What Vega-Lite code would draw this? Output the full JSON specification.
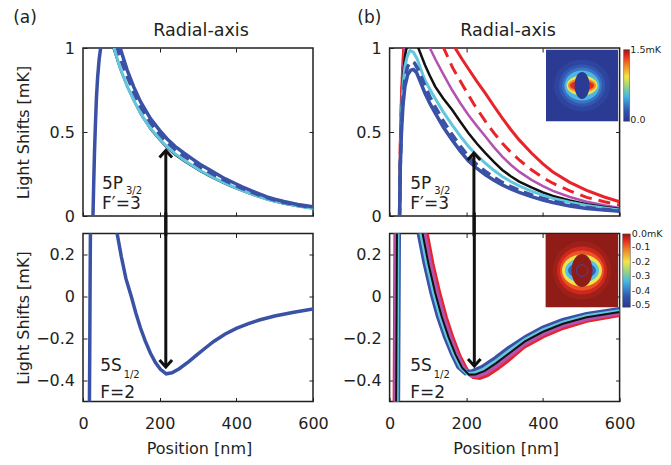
{
"$schema": "https://vega.github.io/schema/vega-lite/v6.json",
"background": "white",
"padding": {"left": 12, "top": 8, "right": 5, "bottom": 5},
"config": {
 "font": "DejaVu Sans",
 "view": {"stroke": "#231f20", "strokeWidth": 1.5},
 "axis": {"domain": false, "grid": false, "ticks": true, "tickSize": -4, "tickColor": "#231f20", "tickWidth": 1, "labelFont": "DejaVu Sans", "labelFontSize": 16, "labelColor": "#231f20", "labelFlush": false, "labelOverlap": false, "labelBound": false, "titleFont": "DejaVu Sans", "titleFontSize": 16, "titleFontWeight": "normal", "titleColor": "#231f20"},
 "axisX": {"labelPadding": 18},
 "axisY": {"labelPadding": 12.5}
},
"datasets": {
 "tA": [
  {"s":"b","x":25,"y":-0.2},{"s":"b","x":26,"y":0},{"s":"b","x":28,"y":0.2},{"s":"b","x":30,"y":0.38},{"s":"b","x":32,"y":0.52},{"s":"b","x":35,"y":0.7},{"s":"b","x":38,"y":0.82},{"s":"b","x":42,"y":0.93},{"s":"b","x":46,"y":1.0},{"s":"b","x":52,"y":1.08},{"s":"b","x":60,"y":1.14},{"s":"b","x":70,"y":1.16},{"s":"b","x":80,"y":1.13},{"s":"b","x":90,"y":1.06},{"s":"b","x":97,"y":1.0},{"s":"b","x":115,"y":0.87},{"s":"b","x":132,"y":0.77},{"s":"b","x":150,"y":0.68},{"s":"b","x":176,"y":0.58},{"s":"b","x":200,"y":0.51},{"s":"b","x":219,"y":0.46},{"s":"b","x":240,"y":0.415},{"s":"b","x":263,"y":0.375},{"s":"b","x":285,"y":0.34},{"s":"b","x":306,"y":0.307},{"s":"b","x":330,"y":0.275},{"s":"b","x":350,"y":0.248},{"s":"b","x":370,"y":0.222},{"s":"b","x":393,"y":0.198},{"s":"b","x":415,"y":0.174},{"s":"b","x":437,"y":0.152},{"s":"b","x":460,"y":0.131},{"s":"b","x":480,"y":0.114},{"s":"b","x":500,"y":0.1},{"s":"b","x":524,"y":0.086},{"s":"b","x":560,"y":0.069},{"s":"b","x":600,"y":0.055},
  {"s":"d","x":70,"y":1.2},{"s":"d","x":80,"y":1.1},{"s":"d","x":90,"y":1.0},{"s":"d","x":97,"y":0.94},{"s":"d","x":115,"y":0.832},{"s":"d","x":132,"y":0.738},{"s":"d","x":150,"y":0.651},{"s":"d","x":176,"y":0.555},{"s":"d","x":200,"y":0.487},{"s":"d","x":219,"y":0.439},{"s":"d","x":240,"y":0.396},{"s":"d","x":263,"y":0.357},{"s":"d","x":285,"y":0.324},{"s":"d","x":306,"y":0.292},{"s":"d","x":330,"y":0.261},{"s":"d","x":350,"y":0.236},{"s":"d","x":370,"y":0.211},{"s":"d","x":393,"y":0.188},{"s":"d","x":415,"y":0.165},{"s":"d","x":437,"y":0.145},{"s":"d","x":460,"y":0.125},{"s":"d","x":480,"y":0.109},{"s":"d","x":500,"y":0.095},{"s":"d","x":524,"y":0.081},{"s":"d","x":560,"y":0.065},{"s":"d","x":600,"y":0.051},
  {"s":"c","x":60,"y":1.12},{"s":"c","x":70,"y":1.07},{"s":"c","x":81,"y":1.0},{"s":"c","x":97,"y":0.88},{"s":"c","x":115,"y":0.775},{"s":"c","x":132,"y":0.692},{"s":"c","x":150,"y":0.612},{"s":"c","x":176,"y":0.522},{"s":"c","x":200,"y":0.458},{"s":"c","x":219,"y":0.412},{"s":"c","x":240,"y":0.371},{"s":"c","x":263,"y":0.333},{"s":"c","x":285,"y":0.301},{"s":"c","x":306,"y":0.271},{"s":"c","x":330,"y":0.241},{"s":"c","x":350,"y":0.218},{"s":"c","x":370,"y":0.195},{"s":"c","x":393,"y":0.173},{"s":"c","x":415,"y":0.152},{"s":"c","x":437,"y":0.133},{"s":"c","x":460,"y":0.115},{"s":"c","x":480,"y":0.1},{"s":"c","x":500,"y":0.088},{"s":"c","x":524,"y":0.075},{"s":"c","x":560,"y":0.059},{"s":"c","x":600,"y":0.045},
  {"s":"k","x":60,"y":1.1},{"s":"k","x":70,"y":1.06},{"s":"k","x":78,"y":1.0},{"s":"k","x":97,"y":0.868},{"s":"k","x":115,"y":0.765},{"s":"k","x":132,"y":0.683},{"s":"k","x":150,"y":0.603},{"s":"k","x":176,"y":0.513},{"s":"k","x":200,"y":0.449},{"s":"k","x":219,"y":0.403},{"s":"k","x":240,"y":0.362},{"s":"k","x":263,"y":0.325},{"s":"k","x":285,"y":0.293},{"s":"k","x":306,"y":0.264},{"s":"k","x":330,"y":0.234},{"s":"k","x":350,"y":0.211},{"s":"k","x":370,"y":0.189},{"s":"k","x":393,"y":0.167},{"s":"k","x":415,"y":0.147},{"s":"k","x":437,"y":0.128},{"s":"k","x":460,"y":0.111},{"s":"k","x":480,"y":0.096},{"s":"k","x":500,"y":0.084},{"s":"k","x":524,"y":0.071},{"s":"k","x":560,"y":0.056},{"s":"k","x":600,"y":0.042}
 ],
 "bA": [
  {"s":"b","x":16,"y":-0.7},{"s":"b","x":17.5,"y":-0.3},{"s":"b","x":18.5,"y":0.05},{"s":"b","x":19.5,"y":0.35},{"s":"b","x":25,"y":1.2},{"s":"b","x":50,"y":1.6},{"s":"b","x":75,"y":0.8},{"s":"b","x":89,"y":0.3},{"s":"b","x":100,"y":0.19},{"s":"b","x":112,"y":0.085},{"s":"b","x":126,"y":0.0},{"s":"b","x":138,"y":-0.08},{"s":"b","x":150,"y":-0.15},{"s":"b","x":162,"y":-0.21},{"s":"b","x":176,"y":-0.27},{"s":"b","x":189,"y":-0.315},{"s":"b","x":202,"y":-0.347},{"s":"b","x":217,"y":-0.368},{"s":"b","x":232,"y":-0.363},{"s":"b","x":250,"y":-0.345},{"s":"b","x":276,"y":-0.31},{"s":"b","x":297,"y":-0.278},{"s":"b","x":320,"y":-0.244},{"s":"b","x":341,"y":-0.214},{"s":"b","x":370,"y":-0.18},{"s":"b","x":400,"y":-0.152},{"s":"b","x":430,"y":-0.13},{"s":"b","x":460,"y":-0.112},{"s":"b","x":500,"y":-0.093},{"s":"b","x":550,"y":-0.075},{"s":"b","x":600,"y":-0.059}
 ],
 "tB": [
  {"s":"b","x":25,"y":-0.2},{"s":"b","x":26,"y":0},{"s":"b","x":28,"y":0.3},{"s":"b","x":31,"y":0.5},{"s":"b","x":35,"y":0.66},{"s":"b","x":40,"y":0.77},{"s":"b","x":47,"y":0.84},{"s":"b","x":55,"y":0.868},{"s":"b","x":62,"y":0.872},{"s":"b","x":70,"y":0.855},{"s":"b","x":80,"y":0.8},{"s":"b","x":92,"y":0.732},{"s":"b","x":105,"y":0.67},{"s":"b","x":119,"y":0.612},{"s":"b","x":140,"y":0.53},{"s":"b","x":163,"y":0.453},{"s":"b","x":185,"y":0.385},{"s":"b","x":206,"y":0.327},{"s":"b","x":228,"y":0.283},{"s":"b","x":250,"y":0.245},{"s":"b","x":272,"y":0.213},{"s":"b","x":294,"y":0.185},{"s":"b","x":316,"y":0.161},{"s":"b","x":338,"y":0.141},{"s":"b","x":370,"y":0.115},{"s":"b","x":400,"y":0.095},{"s":"b","x":426,"y":0.08},{"s":"b","x":470,"y":0.06},{"s":"b","x":514,"y":0.045},{"s":"b","x":560,"y":0.035},{"s":"b","x":600,"y":0.028},
  {"s":"d","x":25,"y":-0.2},{"s":"d","x":26,"y":0},{"s":"d","x":28,"y":0.32},{"s":"d","x":31,"y":0.53},{"s":"d","x":35,"y":0.7},{"s":"d","x":40,"y":0.82},{"s":"d","x":47,"y":0.89},{"s":"d","x":57,"y":0.92},{"s":"d","x":65,"y":0.91},{"s":"d","x":75,"y":0.87},{"s":"d","x":92,"y":0.775},{"s":"d","x":105,"y":0.71},{"s":"d","x":119,"y":0.65},{"s":"d","x":140,"y":0.565},{"s":"d","x":163,"y":0.485},{"s":"d","x":185,"y":0.414},{"s":"d","x":206,"y":0.353},{"s":"d","x":228,"y":0.305},{"s":"d","x":250,"y":0.265},{"s":"d","x":272,"y":0.23},{"s":"d","x":294,"y":0.2},{"s":"d","x":316,"y":0.175},{"s":"d","x":338,"y":0.153},{"s":"d","x":370,"y":0.125},{"s":"d","x":400,"y":0.104},{"s":"d","x":426,"y":0.088},{"s":"d","x":470,"y":0.067},{"s":"d","x":514,"y":0.05},{"s":"d","x":560,"y":0.039},{"s":"d","x":600,"y":0.031},
  {"s":"c","x":25,"y":-0.2},{"s":"c","x":26,"y":0},{"s":"c","x":28,"y":0.36},{"s":"c","x":31,"y":0.6},{"s":"c","x":35,"y":0.78},{"s":"c","x":40,"y":0.89},{"s":"c","x":46,"y":0.95},{"s":"c","x":53,"y":0.985},{"s":"c","x":62,"y":0.975},{"s":"c","x":72,"y":0.935},{"s":"c","x":82,"y":0.87},{"s":"c","x":92,"y":0.81},{"s":"c","x":105,"y":0.755},{"s":"c","x":119,"y":0.7},{"s":"c","x":140,"y":0.62},{"s":"c","x":163,"y":0.543},{"s":"c","x":185,"y":0.474},{"s":"c","x":206,"y":0.414},{"s":"c","x":228,"y":0.36},{"s":"c","x":250,"y":0.314},{"s":"c","x":272,"y":0.272},{"s":"c","x":294,"y":0.235},{"s":"c","x":316,"y":0.205},{"s":"c","x":338,"y":0.179},{"s":"c","x":370,"y":0.148},{"s":"c","x":400,"y":0.124},{"s":"c","x":426,"y":0.105},{"s":"c","x":470,"y":0.082},{"s":"c","x":514,"y":0.062},{"s":"c","x":560,"y":0.047},{"s":"c","x":600,"y":0.036},
  {"s":"k","x":25,"y":-0.2},{"s":"k","x":26,"y":0},{"s":"k","x":28,"y":0.38},{"s":"k","x":31,"y":0.63},{"s":"k","x":35,"y":0.82},{"s":"k","x":40,"y":0.95},{"s":"k","x":46,"y":1.02},{"s":"k","x":55,"y":1.05},{"s":"k","x":65,"y":1.03},{"s":"k","x":75,"y":1.0},{"s":"k","x":92,"y":0.9},{"s":"k","x":105,"y":0.835},{"s":"k","x":119,"y":0.77},{"s":"k","x":140,"y":0.7},{"s":"k","x":163,"y":0.632},{"s":"k","x":185,"y":0.56},{"s":"k","x":206,"y":0.493},{"s":"k","x":228,"y":0.43},{"s":"k","x":250,"y":0.374},{"s":"k","x":272,"y":0.322},{"s":"k","x":294,"y":0.274},{"s":"k","x":316,"y":0.237},{"s":"k","x":338,"y":0.205},{"s":"k","x":370,"y":0.17},{"s":"k","x":400,"y":0.14},{"s":"k","x":426,"y":0.119},{"s":"k","x":470,"y":0.092},{"s":"k","x":514,"y":0.07},{"s":"k","x":560,"y":0.054},{"s":"k","x":600,"y":0.042},
  {"s":"m","x":25,"y":-0.2},{"s":"m","x":26,"y":0},{"s":"m","x":28,"y":0.4},{"s":"m","x":31,"y":0.66},{"s":"m","x":35,"y":0.86},{"s":"m","x":40,"y":1.0},{"s":"m","x":50,"y":1.12},{"s":"m","x":70,"y":1.13},{"s":"m","x":90,"y":1.07},{"s":"m","x":105,"y":1.0},{"s":"m","x":120,"y":0.93},{"s":"m","x":140,"y":0.845},{"s":"m","x":163,"y":0.75},{"s":"m","x":185,"y":0.67},{"s":"m","x":206,"y":0.6},{"s":"m","x":228,"y":0.535},{"s":"m","x":250,"y":0.473},{"s":"m","x":272,"y":0.41},{"s":"m","x":294,"y":0.354},{"s":"m","x":316,"y":0.305},{"s":"m","x":338,"y":0.264},{"s":"m","x":370,"y":0.215},{"s":"m","x":400,"y":0.178},{"s":"m","x":426,"y":0.15},{"s":"m","x":470,"y":0.113},{"s":"m","x":514,"y":0.085},{"s":"m","x":560,"y":0.064},{"s":"m","x":600,"y":0.048},
  {"s":"rd","x":25,"y":-0.2},{"s":"rd","x":26,"y":0},{"s":"rd","x":28,"y":0.42},{"s":"rd","x":31,"y":0.7},{"s":"rd","x":35,"y":0.9},{"s":"rd","x":39,"y":1.02},{"s":"rd","x":50,"y":1.2},{"s":"rd","x":80,"y":1.28},{"s":"rd","x":110,"y":1.18},{"s":"rd","x":141,"y":1.0},{"s":"rd","x":165,"y":0.88},{"s":"rd","x":193,"y":0.77},{"s":"rd","x":220,"y":0.665},{"s":"rd","x":250,"y":0.563},{"s":"rd","x":272,"y":0.495},{"s":"rd","x":294,"y":0.433},{"s":"rd","x":316,"y":0.38},{"s":"rd","x":338,"y":0.334},{"s":"rd","x":370,"y":0.275},{"s":"rd","x":400,"y":0.228},{"s":"rd","x":426,"y":0.195},{"s":"rd","x":470,"y":0.15},{"s":"rd","x":514,"y":0.111},{"s":"rd","x":560,"y":0.085},{"s":"rd","x":600,"y":0.066},
  {"s":"r","x":25,"y":-0.2},{"s":"r","x":26,"y":0},{"s":"r","x":28,"y":0.44},{"s":"r","x":31,"y":0.72},{"s":"r","x":35,"y":0.93},{"s":"r","x":38,"y":1.04},{"s":"r","x":50,"y":1.35},{"s":"r","x":90,"y":1.4},{"s":"r","x":130,"y":1.25},{"s":"r","x":171,"y":1.0},{"s":"r","x":190,"y":0.93},{"s":"r","x":206,"y":0.875},{"s":"r","x":228,"y":0.8},{"s":"r","x":250,"y":0.73},{"s":"r","x":272,"y":0.655},{"s":"r","x":294,"y":0.583},{"s":"r","x":316,"y":0.515},{"s":"r","x":338,"y":0.453},{"s":"r","x":370,"y":0.375},{"s":"r","x":400,"y":0.31},{"s":"r","x":426,"y":0.262},{"s":"r","x":470,"y":0.2},{"s":"r","x":514,"y":0.152},{"s":"r","x":560,"y":0.113},{"s":"r","x":600,"y":0.085}
 ],
 "bB": [
  {"s":"b","x":20.5,"y":-0.7},{"s":"b","x":23.5,"y":0.4},{"s":"b","x":35,"y":1.5},{"s":"b","x":52,"y":1.0},{"s":"b","x":65,"y":0.55},{"s":"b","x":77,"y":0.3},{"s":"b","x":92,"y":0.161},{"s":"b","x":110,"y":0.018},{"s":"b","x":127,"y":-0.094},{"s":"b","x":145,"y":-0.19},{"s":"b","x":163,"y":-0.27},{"s":"b","x":180,"y":-0.334},{"s":"b","x":198,"y":-0.363},{"s":"b","x":215,"y":-0.358},{"s":"b","x":242,"y":-0.337},{"s":"b","x":277,"y":-0.294},{"s":"b","x":312,"y":-0.246},{"s":"b","x":356,"y":-0.193},{"s":"b","x":400,"y":-0.15},{"s":"b","x":452,"y":-0.114},{"s":"b","x":514,"y":-0.085},{"s":"b","x":600,"y":-0.062},
  {"s":"c","x":18.5,"y":-0.7},{"s":"c","x":21.5,"y":0.4},{"s":"c","x":33,"y":1.5},{"s":"c","x":57,"y":1.0},{"s":"c","x":70,"y":0.55},{"s":"c","x":82,"y":0.3},{"s":"c","x":97,"y":0.16},{"s":"c","x":115,"y":0.017},{"s":"c","x":132,"y":-0.0955},{"s":"c","x":150,"y":-0.1925},{"s":"c","x":168,"y":-0.274},{"s":"c","x":185,"y":-0.337},{"s":"c","x":203,"y":-0.368},{"s":"c","x":220,"y":-0.3655},{"s":"c","x":245,"y":-0.3465},{"s":"c","x":278,"y":-0.307},{"s":"c","x":312,"y":-0.2595},{"s":"c","x":354.5,"y":-0.205},{"s":"c","x":400,"y":-0.16},{"s":"c","x":452,"y":-0.123},{"s":"c","x":514,"y":-0.093},{"s":"c","x":600,"y":-0.0685},
  {"s":"k","x":16.5,"y":-0.7},{"s":"k","x":19.5,"y":0.4},{"s":"k","x":31,"y":1.5},{"s":"k","x":61,"y":1.0},{"s":"k","x":74,"y":0.55},{"s":"k","x":86,"y":0.3},{"s":"k","x":101,"y":0.158},{"s":"k","x":119,"y":0.0167},{"s":"k","x":136,"y":-0.0967},{"s":"k","x":154,"y":-0.1945},{"s":"k","x":172,"y":-0.277},{"s":"k","x":189,"y":-0.339},{"s":"k","x":207,"y":-0.372},{"s":"k","x":224,"y":-0.3715},{"s":"k","x":248,"y":-0.354},{"s":"k","x":278,"y":-0.317},{"s":"k","x":312,"y":-0.27},{"s":"k","x":353,"y":-0.214},{"s":"k","x":400,"y":-0.168},{"s":"k","x":452,"y":-0.13},{"s":"k","x":514,"y":-0.099},{"s":"k","x":600,"y":-0.0737},
  {"s":"m","x":14.5,"y":-0.7},{"s":"m","x":17.5,"y":0.4},{"s":"m","x":29,"y":1.5},{"s":"m","x":66,"y":1.0},{"s":"m","x":79,"y":0.55},{"s":"m","x":91,"y":0.3},{"s":"m","x":106,"y":0.157},{"s":"m","x":124,"y":0.016},{"s":"m","x":141,"y":-0.098},{"s":"m","x":159,"y":-0.197},{"s":"m","x":177,"y":-0.2805},{"s":"m","x":194,"y":-0.342},{"s":"m","x":212,"y":-0.377},{"s":"m","x":229,"y":-0.379},{"s":"m","x":251,"y":-0.364},{"s":"m","x":279,"y":-0.33},{"s":"m","x":312,"y":-0.284},{"s":"m","x":352,"y":-0.226},{"s":"m","x":400,"y":-0.178},{"s":"m","x":452,"y":-0.139},{"s":"m","x":514,"y":-0.107},{"s":"m","x":600,"y":-0.08},
  {"s":"r","x":12.5,"y":-0.7},{"s":"r","x":15.5,"y":0.4},{"s":"r","x":27,"y":1.5},{"s":"r","x":72,"y":1.0},{"s":"r","x":85,"y":0.55},{"s":"r","x":97,"y":0.3},{"s":"r","x":112,"y":0.155},{"s":"r","x":130,"y":0.015},{"s":"r","x":147,"y":-0.1},{"s":"r","x":165,"y":-0.2},{"s":"r","x":183,"y":-0.285},{"s":"r","x":200,"y":-0.345},{"s":"r","x":218,"y":-0.383},{"s":"r","x":235,"y":-0.388},{"s":"r","x":255,"y":-0.375},{"s":"r","x":280,"y":-0.345},{"s":"r","x":312,"y":-0.3},{"s":"r","x":350,"y":-0.24},{"s":"r","x":400,"y":-0.19},{"s":"r","x":452,"y":-0.15},{"s":"r","x":514,"y":-0.116},{"s":"r","x":600,"y":-0.088}
 ]
},
"columns": 2,
"spacing": {"row": 17.5, "column": 76.6},
"bounds": "flush",
"concat": [
 {
  "width": 230, "height": 168,
  "data": {"name": "tA"},
  "encoding": {
   "x": {"field": "x", "type": "quantitative", "scale": {"domain": [0, 600], "nice": false, "zero": false}, "axis": null},
   "y": {"field": "y", "type": "quantitative", "scale": {"domain": [0, 1], "nice": false, "zero": false}, "axis": null}
  },
  "layer": [
   {"transform": [{"filter": "datum.s=='k'"}], "mark": {"type": "line", "clip": true, "color": "#111111", "strokeWidth": 1.2},
    "encoding": {
     "x": {"field": "x", "type": "quantitative", "scale": {"domain": [0, 600], "nice": false, "zero": false}, "axis": {"orient": "bottom", "values": [0, 200, 400, 600], "labels": false, "title": null}},
     "y": {"field": "y", "type": "quantitative", "scale": {"domain": [0, 1], "nice": false, "zero": false}, "axis": {"orient": "left", "values": [0, 0.5, 1], "format": "~g", "title": "Light Shifts [mK]", "titleX": -60, "titleY": 84, "titleAngle": -90, "titleAlign": "center", "titleBaseline": "middle"}}
    }},
   {"transform": [{"filter": "datum.s=='c'"}], "mark": {"type": "line", "clip": true, "color": "#62c6dc", "strokeWidth": 3},
    "encoding": {
     "x": {"field": "x", "type": "quantitative", "scale": {"domain": [0, 600], "nice": false, "zero": false}, "axis": {"orient": "top", "values": [200, 400], "labels": false, "title": null}},
     "y": {"field": "y", "type": "quantitative", "scale": {"domain": [0, 1], "nice": false, "zero": false}, "axis": {"orient": "right", "values": [0.5], "labels": false, "title": null}}
    }},
   {"transform": [{"filter": "datum.s=='d'"}], "mark": {"type": "line", "clip": true, "color": "#3a52a6", "strokeWidth": 3.5, "strokeDash": [10, 6]}},
   {"transform": [{"filter": "datum.s=='b'"}], "mark": {"type": "line", "clip": true, "color": "#3a52a6", "strokeWidth": 3.5}},
   {"data": {"values": [{"x": 216, "y": 0.39, "y2": -0.12}]}, "mark": {"type": "rule", "color": "#111111", "strokeWidth": 3}, "encoding": {"y2": {"field": "y2"}}},
   {"data": {"values": [{"x": 216, "y": 0.39}]}, "mark": {"type": "point", "shape": "M-0.9,1L0,0L0.9,1", "size": 196, "filled": false, "color": "#111111", "strokeWidth": 3, "opacity": 1}},
   {"data": {"values": [{"t": "5P", "x": 49.6, "y": 0.159}, {"t": "F′=3", "x": 49.6, "y": 0.04}, {"t": "(a)", "x": -182, "y": 1.149}]}, "mark": {"type": "text", "align": "left", "baseline": "alphabetic", "font": "DejaVu Sans", "fontSize": 17, "color": "#231f20"}, "encoding": {"text": {"field": "t"}}},
   {"data": {"values": [{"t": "Radial-axis", "x": 308, "y": 1.07}]}, "mark": {"type": "text", "align": "center", "baseline": "alphabetic", "font": "DejaVu Sans", "fontSize": 17.5, "color": "#231f20"}, "encoding": {"text": {"field": "t"}}},
   {"data": {"values": [{"t": "3/2", "x": 112, "y": 0.13}]}, "mark": {"type": "text", "align": "left", "baseline": "alphabetic", "font": "DejaVu Sans", "fontSize": 10, "color": "#231f20"}, "encoding": {"text": {"field": "t"}}}
  ],
  "resolve": {"axis": {"x": "independent", "y": "independent"}}
 },
 {
  "width": 230, "height": 168,
  "data": {"name": "tB"},
  "encoding": {
   "x": {"field": "x", "type": "quantitative", "scale": {"domain": [0, 600], "nice": false, "zero": false}, "axis": null},
   "y": {"field": "y", "type": "quantitative", "scale": {"domain": [0, 1], "nice": false, "zero": false}, "axis": null}
  },
  "layer": [
   {"transform": [{"filter": "datum.s=='r'"}], "mark": {"type": "line", "clip": true, "color": "#e8242a", "strokeWidth": 3},
    "encoding": {
     "x": {"field": "x", "type": "quantitative", "scale": {"domain": [0, 600], "nice": false, "zero": false}, "axis": {"orient": "bottom", "values": [0, 200, 400, 600], "labels": false, "title": null}},
     "y": {"field": "y", "type": "quantitative", "scale": {"domain": [0, 1], "nice": false, "zero": false}, "axis": {"orient": "left", "values": [0, 0.5, 1], "format": "~g", "title": null}}
    }},
   {"transform": [{"filter": "datum.s=='rd'"}], "mark": {"type": "line", "clip": true, "color": "#e8242a", "strokeWidth": 3, "strokeDash": [12, 7]},
    "encoding": {
     "x": {"field": "x", "type": "quantitative", "scale": {"domain": [0, 600], "nice": false, "zero": false}, "axis": {"orient": "top", "values": [200, 400], "labels": false, "title": null}},
     "y": {"field": "y", "type": "quantitative", "scale": {"domain": [0, 1], "nice": false, "zero": false}, "axis": {"orient": "right", "values": [0.5], "labels": false, "title": null}}
    }},
   {"transform": [{"filter": "datum.s=='m'"}], "mark": {"type": "line", "clip": true, "color": "#b352b0", "strokeWidth": 2.5}},
   {"transform": [{"filter": "datum.s=='k'"}], "mark": {"type": "line", "clip": true, "color": "#111111", "strokeWidth": 2.5}},
   {"transform": [{"filter": "datum.s=='c'"}], "mark": {"type": "line", "clip": true, "color": "#62c6dc", "strokeWidth": 3}},
   {"transform": [{"filter": "datum.s=='d'"}], "mark": {"type": "line", "clip": true, "color": "#3a52a6", "strokeWidth": 3.5, "strokeDash": [10, 6]}},
   {"transform": [{"filter": "datum.s=='b'"}], "mark": {"type": "line", "clip": true, "color": "#3a52a6", "strokeWidth": 3.5}},
   {"data": {"values": [{"x": 220, "y": 0.375, "y2": -0.12}]}, "mark": {"type": "rule", "color": "#111111", "strokeWidth": 3}, "encoding": {"y2": {"field": "y2"}}},
   {"data": {"values": [{"x": 220, "y": 0.375}]}, "mark": {"type": "point", "shape": "M-0.9,1L0,0L0.9,1", "size": 196, "filled": false, "color": "#111111", "strokeWidth": 3, "opacity": 1}},
   {"data": {"values": [{"x": 408, "x2": 596, "y": 0.564, "y2": 0.99}]}, "mark": {"type": "rect", "color": "#2b3a92"}, "encoding": {"x2": {"field": "x2"}, "y2": {"field": "y2"}}},
   {"data": {"values": [{"x": 502, "y": 0.777}]}, "mark": {"type": "point", "shape": "M0.28,0C0.28,0.144 0.155,0.26 0,0.26C-0.155,0.26 -0.28,0.144 -0.28,0C-0.28,-0.144 -0.155,-0.26 0,-0.26C0.155,-0.26 0.28,-0.144 0.28,0Z", "size": 40000, "filled": true, "color": "#2e45a0", "opacity": 1, "strokeWidth": 0}},
   {"data": {"values": [{"x": 502, "y": 0.777}]}, "mark": {"type": "point", "shape": "M0.23,0C0.23,0.116 0.127,0.21 0,0.21C-0.127,0.21 -0.23,0.116 -0.23,0C-0.23,-0.116 -0.127,-0.21 0,-0.21C0.127,-0.21 0.23,-0.116 0.23,0Z", "size": 40000, "filled": true, "color": "#3257b0", "opacity": 1, "strokeWidth": 0}},
   {"data": {"values": [{"x": 502, "y": 0.777}]}, "mark": {"type": "point", "shape": "M0.2,0C0.2,0.099 0.11,0.18 0,0.18C-0.11,0.18 -0.2,0.099 -0.2,0C-0.2,-0.099 -0.11,-0.18 0,-0.18C0.11,-0.18 0.2,-0.099 0.2,0Z", "size": 40000, "filled": true, "color": "#3a72c4", "opacity": 1, "strokeWidth": 0}},
   {"data": {"values": [{"x": 502, "y": 0.777}]}, "mark": {"type": "point", "shape": "M0.175,0C0.175,0.083 0.097,0.15 0,0.15C-0.097,0.15 -0.175,0.083 -0.175,0C-0.175,-0.083 -0.097,-0.15 0,-0.15C0.097,-0.15 0.175,-0.083 0.175,0Z", "size": 40000, "filled": true, "color": "#4bb8e3", "opacity": 1, "strokeWidth": 0}},
   {"data": {"values": [{"x": 502, "y": 0.777}]}, "mark": {"type": "point", "shape": "M0.155,0C0.155,0.055 0.086,0.1 0,0.1C-0.086,0.1 -0.155,0.055 -0.155,0C-0.155,-0.055 -0.086,-0.1 0,-0.1C0.086,-0.1 0.155,-0.055 0.155,0Z", "size": 40000, "filled": true, "color": "#f0e24a", "opacity": 1, "strokeWidth": 0}},
   {"data": {"values": [{"x": 502, "y": 0.777}]}, "mark": {"type": "point", "shape": "M0.14,0C0.14,0.039 0.077,0.07 0,0.07C-0.077,0.07 -0.14,0.039 -0.14,0C-0.14,-0.039 -0.077,-0.07 0,-0.07C0.077,-0.07 0.14,-0.039 0.14,0Z", "size": 40000, "filled": true, "color": "#f08a30", "opacity": 1, "strokeWidth": 0}},
   {"data": {"values": [{"x": 502, "y": 0.777}]}, "mark": {"type": "point", "shape": "M0.12,0C0.12,0.028 0.066,0.05 0,0.05C-0.066,0.05 -0.12,0.028 -0.12,0C-0.12,-0.028 -0.066,-0.05 0,-0.05C0.066,-0.05 0.12,-0.028 0.12,0Z", "size": 40000, "filled": true, "color": "#e02a24", "opacity": 1, "strokeWidth": 0}},
   {"data": {"values": [{"x": 502, "y": 0.777}]}, "mark": {"type": "point", "shape": "M0.075,0C0.075,0.075 0.041,0.135 0,0.135C-0.041,0.135 -0.075,0.075 -0.075,0C-0.075,-0.075 -0.041,-0.135 0,-0.135C0.041,-0.135 0.075,-0.075 0.075,0Z", "size": 40000, "filled": true, "color": "#2b3a92", "opacity": 1, "strokeWidth": 0}},
   {"data": {"values": [{"x": 610.5, "x2": 626, "y": 0.564, "y2": 0.99}]}, "mark": {"type": "rect", "stroke": "#444444", "strokeWidth": 0.5, "color": {"gradient": "linear", "x1": 0, "y1": 1, "x2": 0, "y2": 0, "stops": [{"offset": 0, "color": "#2a3590"}, {"offset": 0.15, "color": "#2f56b0"}, {"offset": 0.35, "color": "#45b7e6"}, {"offset": 0.5, "color": "#9fd67c"}, {"offset": 0.62, "color": "#f2e645"}, {"offset": 0.8, "color": "#ef7a26"}, {"offset": 0.92, "color": "#e2231f"}, {"offset": 1, "color": "#8e1a17"}]}}, "encoding": {"x2": {"field": "x2"}, "y2": {"field": "y2"}}},
   {"data": {"values": [{"t": "1.5mK", "x": 628, "y": 0.99}, {"t": "0.0", "x": 628, "y": 0.57}]}, "mark": {"type": "text", "align": "left", "baseline": "middle", "font": "DejaVu Sans", "fontSize": 9.5, "color": "#231f20"}, "encoding": {"text": {"field": "t"}}},
   {"data": {"values": [{"t": "5P", "x": 54, "y": 0.159}, {"t": "F′=3", "x": 54, "y": 0.04}, {"t": "(b)", "x": -84.3, "y": 1.149}]}, "mark": {"type": "text", "align": "left", "baseline": "alphabetic", "font": "DejaVu Sans", "fontSize": 17, "color": "#231f20"}, "encoding": {"text": {"field": "t"}}},
   {"data": {"values": [{"t": "Radial-axis", "x": 309, "y": 1.07}]}, "mark": {"type": "text", "align": "center", "baseline": "alphabetic", "font": "DejaVu Sans", "fontSize": 17.5, "color": "#231f20"}, "encoding": {"text": {"field": "t"}}},
   {"data": {"values": [{"t": "3/2", "x": 116.5, "y": 0.13}]}, "mark": {"type": "text", "align": "left", "baseline": "alphabetic", "font": "DejaVu Sans", "fontSize": 10, "color": "#231f20"}, "encoding": {"text": {"field": "t"}}}
  ],
  "resolve": {"axis": {"x": "independent", "y": "independent"}}
 },
 {
  "width": 230, "height": 168,
  "data": {"name": "bA"},
  "encoding": {
   "x": {"field": "x", "type": "quantitative", "scale": {"domain": [0, 600], "nice": false, "zero": false}, "axis": null},
   "y": {"field": "y", "type": "quantitative", "scale": {"domain": [-0.5, 0.3], "nice": false, "zero": false}, "axis": null}
  },
  "layer": [
   {"transform": [{"filter": "datum.s=='b'"}], "mark": {"type": "line", "clip": true, "color": "#3a52a6", "strokeWidth": 3.5},
    "encoding": {
     "x": {"field": "x", "type": "quantitative", "scale": {"domain": [0, 600], "nice": false, "zero": false}, "axis": {"orient": "bottom", "values": [0, 200, 400, 600], "title": "Position [nm]", "titleX": 116, "titleY": 52, "titleBaseline": "alphabetic", "titleAlign": "center"}},
     "y": {"field": "y", "type": "quantitative", "scale": {"domain": [-0.5, 0.3], "nice": false, "zero": false}, "axis": {"orient": "left", "values": [-0.4, -0.2, 0, 0.2], "format": "~g", "title": "Light Shifts [mK]", "titleX": -60, "titleY": 84, "titleAngle": -90, "titleAlign": "center", "titleBaseline": "middle"}}
    }},
   {"transform": [{"filter": "datum.s=='none'"}], "mark": {"type": "line", "clip": true},
    "encoding": {
     "x": {"field": "x", "type": "quantitative", "scale": {"domain": [0, 600], "nice": false, "zero": false}, "axis": {"orient": "top", "values": [200, 400], "labels": false, "title": null}},
     "y": {"field": "y", "type": "quantitative", "scale": {"domain": [-0.5, 0.3], "nice": false, "zero": false}, "axis": {"orient": "right", "values": [-0.4, -0.2, 0, 0.2], "labels": false, "title": null}}
    }},
   {"data": {"values": [{"x": 216, "y": 0.4, "y2": -0.336}]}, "mark": {"type": "rule", "color": "#111111", "strokeWidth": 3}, "encoding": {"y2": {"field": "y2"}}},
   {"data": {"values": [{"x": 216, "y": -0.336}]}, "mark": {"type": "point", "shape": "M-0.9,-1L0,0L0.9,-1", "size": 196, "filled": false, "color": "#111111", "strokeWidth": 3, "opacity": 1}},
   {"data": {"values": [{"t": "5S", "x": 45, "y": -0.356}, {"t": "F=2", "x": 45, "y": -0.485}]}, "mark": {"type": "text", "align": "left", "baseline": "alphabetic", "font": "DejaVu Sans", "fontSize": 17, "color": "#231f20"}, "encoding": {"text": {"field": "t"}}},
   {"data": {"values": [{"t": "1/2", "x": 106, "y": -0.388}]}, "mark": {"type": "text", "align": "left", "baseline": "alphabetic", "font": "DejaVu Sans", "fontSize": 10, "color": "#231f20"}, "encoding": {"text": {"field": "t"}}}
  ],
  "resolve": {"axis": {"x": "independent", "y": "independent"}}
 },
 {
  "width": 230, "height": 168,
  "data": {"name": "bB"},
  "encoding": {
   "x": {"field": "x", "type": "quantitative", "scale": {"domain": [0, 600], "nice": false, "zero": false}, "axis": null},
   "y": {"field": "y", "type": "quantitative", "scale": {"domain": [-0.5, 0.3], "nice": false, "zero": false}, "axis": null}
  },
  "layer": [
   {"transform": [{"filter": "datum.s=='r'"}], "mark": {"type": "line", "clip": true, "color": "#e8242a", "strokeWidth": 4},
    "encoding": {
     "x": {"field": "x", "type": "quantitative", "scale": {"domain": [0, 600], "nice": false, "zero": false}, "axis": {"orient": "bottom", "values": [0, 200, 400, 600], "title": "Position [nm]", "titleX": 116, "titleY": 52, "titleBaseline": "alphabetic", "titleAlign": "center"}},
     "y": {"field": "y", "type": "quantitative", "scale": {"domain": [-0.5, 0.3], "nice": false, "zero": false}, "axis": {"orient": "left", "values": [-0.4, -0.2, 0, 0.2], "format": "~g", "title": null}}
    }},
   {"transform": [{"filter": "datum.s=='m'"}], "mark": {"type": "line", "clip": true, "color": "#b352b0", "strokeWidth": 4},
    "encoding": {
     "x": {"field": "x", "type": "quantitative", "scale": {"domain": [0, 600], "nice": false, "zero": false}, "axis": {"orient": "top", "values": [200, 400], "labels": false, "title": null}},
     "y": {"field": "y", "type": "quantitative", "scale": {"domain": [-0.5, 0.3], "nice": false, "zero": false}, "axis": {"orient": "right", "values": [-0.4, -0.2, 0, 0.2], "labels": false, "title": null}}
    }},
   {"transform": [{"filter": "datum.s=='b'"}], "mark": {"type": "line", "clip": true, "color": "#3a52a6", "strokeWidth": 5}},
   {"transform": [{"filter": "datum.s=='c'"}], "mark": {"type": "line", "clip": true, "color": "#62c6dc", "strokeWidth": 3.5}},
   {"transform": [{"filter": "datum.s=='k'"}], "mark": {"type": "line", "clip": true, "color": "#111111", "strokeWidth": 2}},
   {"data": {"values": [{"x": 221, "y": 0.4, "y2": -0.331}]}, "mark": {"type": "rule", "color": "#111111", "strokeWidth": 3}, "encoding": {"y2": {"field": "y2"}}},
   {"data": {"values": [{"x": 221, "y": -0.331}]}, "mark": {"type": "point", "shape": "M-0.9,-1L0,0L0.9,-1", "size": 196, "filled": false, "color": "#111111", "strokeWidth": 3, "opacity": 1}},
   {"data": {"values": [{"x": 407, "x2": 596, "y": -0.051, "y2": 0.298}]}, "mark": {"type": "rect", "color": "#8f1c17"}, "encoding": {"x2": {"field": "x2"}, "y2": {"field": "y2"}}},
   {"data": {"values": [{"x": 502, "y": 0.1235}]}, "mark": {"type": "point", "shape": "circle", "size": 3421, "filled": true, "color": "#9d2119", "opacity": 1, "strokeWidth": 0}},
   {"data": {"values": [{"x": 502, "y": 0.1235}]}, "mark": {"type": "point", "shape": "M0.25,0C0.25,0.133 0.138,0.24 0,0.24C-0.138,0.24 -0.25,0.133 -0.25,0C-0.25,-0.133 -0.138,-0.24 0,-0.24C0.138,-0.24 0.25,-0.133 0.25,0Z", "size": 40000, "filled": true, "color": "#cf271d", "opacity": 1, "strokeWidth": 0}},
   {"data": {"values": [{"x": 502, "y": 0.1235}]}, "mark": {"type": "point", "shape": "M0.22,0C0.22,0.11 0.122,0.2 0,0.2C-0.122,0.2 -0.22,0.11 -0.22,0C-0.22,-0.11 -0.122,-0.2 0,-0.2C0.122,-0.2 0.22,-0.11 0.22,0Z", "size": 40000, "filled": true, "color": "#ec5323", "opacity": 1, "strokeWidth": 0}},
   {"data": {"values": [{"x": 502, "y": 0.1235}]}, "mark": {"type": "point", "shape": "M0.2,0C0.2,0.088 0.11,0.16 0,0.16C-0.11,0.16 -0.2,0.088 -0.2,0C-0.2,-0.088 -0.11,-0.16 0,-0.16C0.11,-0.16 0.2,-0.088 0.2,0Z", "size": 40000, "filled": true, "color": "#f1e34a", "opacity": 1, "strokeWidth": 0}},
   {"data": {"values": [{"x": 502, "y": 0.1235}]}, "mark": {"type": "point", "shape": "M0.17,0C0.17,0.066 0.094,0.12 0,0.12C-0.094,0.12 -0.17,0.066 -0.17,0C-0.17,-0.066 -0.094,-0.12 0,-0.12C0.094,-0.12 0.17,-0.066 0.17,0Z", "size": 40000, "filled": true, "color": "#57c2e4", "opacity": 1, "strokeWidth": 0}},
   {"data": {"values": [{"x": 502, "y": 0.1235}]}, "mark": {"type": "point", "shape": "M0.14,0C0.14,0.044 0.077,0.08 0,0.08C-0.077,0.08 -0.14,0.044 -0.14,0C-0.14,-0.044 -0.077,-0.08 0,-0.08C0.077,-0.08 0.14,-0.044 0.14,0Z", "size": 40000, "filled": true, "color": "#2f67c2", "opacity": 1, "strokeWidth": 0}},
   {"data": {"values": [{"x": 502, "y": 0.1235}]}, "mark": {"type": "point", "shape": "M0.105,0C0.105,0.091 0.058,0.165 0,0.165C-0.058,0.165 -0.105,0.091 -0.105,0C-0.105,-0.091 -0.058,-0.165 0,-0.165C0.058,-0.165 0.105,-0.091 0.105,0Z", "size": 40000, "filled": true, "color": "#8f1c17", "opacity": 1, "strokeWidth": 0}},
   {"data": {"values": [{"x": 502, "y": 0.1235}]}, "mark": {"type": "point", "shape": "circle", "size": 133, "filled": false, "color": "#3c4aa5", "opacity": 1, "strokeWidth": 1}},
   {"data": {"values": [{"x": 608, "x2": 628, "y": -0.051, "y2": 0.298}]}, "mark": {"type": "rect", "stroke": "#444444", "strokeWidth": 0.5, "color": {"gradient": "linear", "x1": 0, "y1": 1, "x2": 0, "y2": 0, "stops": [{"offset": 0, "color": "#2a3590"}, {"offset": 0.15, "color": "#2f56b0"}, {"offset": 0.35, "color": "#45b7e6"}, {"offset": 0.5, "color": "#9fd67c"}, {"offset": 0.62, "color": "#f2e645"}, {"offset": 0.8, "color": "#ef7a26"}, {"offset": 0.92, "color": "#e2231f"}, {"offset": 1, "color": "#8e1a17"}]}}, "encoding": {"x2": {"field": "x2"}, "y2": {"field": "y2"}}},
   {"data": {"values": [{"t": "0.0mK", "x": 632, "y": 0.298}, {"t": "-0.1", "x": 632, "y": 0.235}, {"t": "-0.2", "x": 632, "y": 0.164}, {"t": "-0.3", "x": 632, "y": 0.096}, {"t": "-0.4", "x": 632, "y": 0.028}, {"t": "-0.5", "x": 632, "y": -0.042}]}, "mark": {"type": "text", "align": "left", "baseline": "middle", "font": "DejaVu Sans", "fontSize": 9.5, "color": "#231f20"}, "encoding": {"text": {"field": "t"}}},
   {"data": {"values": [{"t": "5S", "x": 54, "y": -0.356}, {"t": "F=2", "x": 54, "y": -0.485}]}, "mark": {"type": "text", "align": "left", "baseline": "alphabetic", "font": "DejaVu Sans", "fontSize": 17, "color": "#231f20"}, "encoding": {"text": {"field": "t"}}},
   {"data": {"values": [{"t": "1/2", "x": 115, "y": -0.388}]}, "mark": {"type": "text", "align": "left", "baseline": "alphabetic", "font": "DejaVu Sans", "fontSize": 10, "color": "#231f20"}, "encoding": {"text": {"field": "t"}}}
  ],
  "resolve": {"axis": {"x": "independent", "y": "independent"}}
 }
]
}
